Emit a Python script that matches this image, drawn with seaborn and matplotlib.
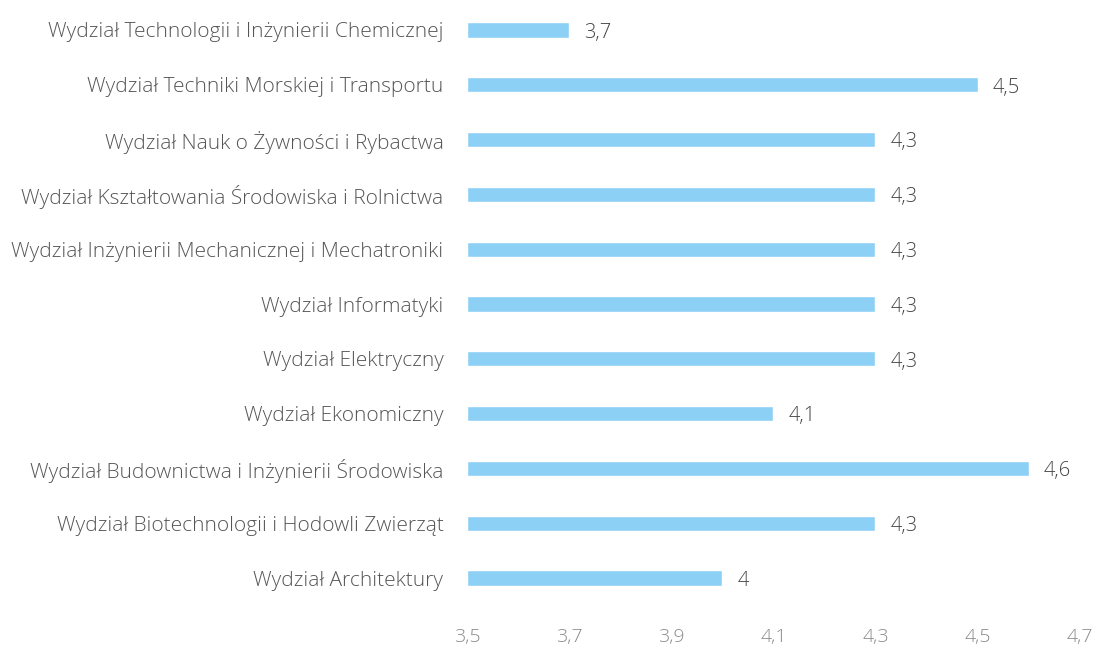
import matplotlib
matplotlib.use("Agg")
import matplotlib.pyplot as plt
import seaborn as sns
import pandas as pd

# Data (top to bottom)
wydzialy = [
    "Wydział Technologii i Inżynierii Chemicznej",
    "Wydział Techniki Morskiej i Transportu",
    "Wydział Nauk o Żywności i Rybactwa",
    "Wydział Kształtowania Środowiska i Rolnictwa",
    "Wydział Inżynierii Mechanicznej i Mechatroniki",
    "Wydział Informatyki",
    "Wydział Elektryczny",
    "Wydział Ekonomiczny",
    "Wydział Budownictwa i Inżynierii Środowiska",
    "Wydział Biotechnologii i Hodowli Zwierząt",
    "Wydział Architektury",
]
oceny = [3.7, 4.5, 4.3, 4.3, 4.3, 4.3, 4.3, 4.1, 4.6, 4.3, 4.0]
x_ticks = [3.5, 3.7, 3.9, 4.1, 4.3, 4.5, 4.7]

df = pd.DataFrame({"wydzial": wydzialy, "ocena": oceny})

sns.set_style("white")
plt.rcParams['font.family'] = ['Open Sans', 'DejaVu Sans']

fig, ax = plt.subplots(figsize=(10.95, 6.48), dpi=100)
fig.subplots_adjust(left=0.4265, right=0.986, top=0.996, bottom=0.0657)

# bars start at 3.5 (axis minimum)
base = 3.5
sns.barplot(data=df, y="wydzial", x="ocena", color="#8dd0f5", saturation=1,
            width=0.28, ax=ax, orient="h")
for patch, v in zip(ax.patches, oceny):
    patch.set_x(base)
    patch.set_width(v - base)

labels = [f"{v:g}".replace(".", ",") for v in oceny]
texts = ax.bar_label(ax.containers[0], labels=labels, padding=11, fontsize=14.5,
                     color="#444444", fontweight="light")
for t in texts:
    t.xyann = (11, -2)  # sit value labels a touch below bar centre

ax.set_xlim(3.5, 4.7)
ax.set_ylim(10.5, -0.5)
ax.set_xticks(x_ticks)
ax.set_xticklabels([f"{t:.1f}".replace(".", ",") for t in x_ticks],
                   color="#8a8a8a", fontsize=14, fontweight="light")
for t in ax.get_yticklabels():
    t.set_fontweight("light")
ax.tick_params(axis="x", length=0, pad=16)
ax.tick_params(axis="y", length=0, pad=17, labelsize=15, labelcolor="#555555")
ax.set_xlabel("")
ax.set_ylabel("")
sns.despine(ax=ax, left=True, bottom=True)

fig.savefig("out.png", dpi=100)
